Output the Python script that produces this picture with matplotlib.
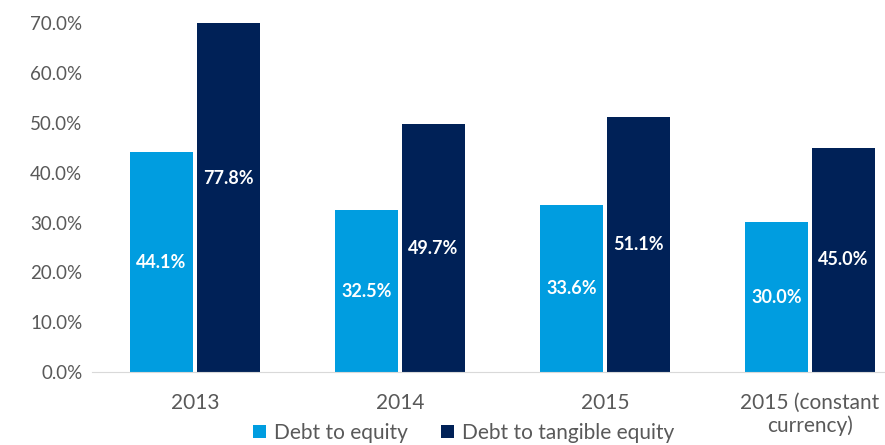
import matplotlib
matplotlib.use("Agg")
import matplotlib.pyplot as plt
import numpy as np

categories = ["2013", "2014", "2015", "2015 (constant\ncurrency)"]
debt_to_equity = [44.1, 32.5, 33.6, 30.0]
debt_to_tangible = [77.8, 49.7, 51.1, 45.0]
series_names = ["Debt to equity", "Debt to tangible equity"]
yticks = [0, 10, 20, 30, 40, 50, 60, 70]

plt.rcParams['font.family'] = ['Lato', 'DejaVu Sans']
light = "#009DE0"
dark = "#002157"
gray = "#595959"

fig = plt.figure(figsize=(8.85, 4.45), dpi=100)
ax = fig.add_axes([0.104, 0.164, 0.896, 0.784])

x = np.arange(len(categories))
w = 0.307
off = 0.163
b1 = ax.bar(x - off, debt_to_equity, w, color=light, label=series_names[0])
b2 = ax.bar(x + off, debt_to_tangible, w, color=dark, label=series_names[1])

for bars, vals in ((b1, debt_to_equity), (b2, debt_to_tangible)):
    for r, v in zip(bars, vals):
        ax.text(r.get_x() + r.get_width()/2, v/2, f"{v:.1f}%", ha="center", va="center",
                color="white", fontsize=13, fontweight="bold")

ax.set_ylim(0, 70)
ax.set_xlim(-0.502, 3.366)
ax.set_yticks(yticks)
ax.set_yticklabels([f"{t:.1f}%" for t in yticks], color=gray, fontsize=13.5)
ax.set_xticks(x)
ax.set_xticklabels(categories, color=gray, fontsize=15, linespacing=1.15)
ax.tick_params(axis="both", length=0)
ax.tick_params(axis="x", pad=15)
ax.tick_params(axis="y", pad=7)
for s in ("top", "right", "left"):
    ax.spines[s].set_visible(False)
ax.spines["bottom"].set_color("#D9D9D9")

fig.legend(handles=[b1, b2], labels=series_names, loc="center", bbox_to_anchor=(0.524, 0.027),
           ncol=2, frameon=False, fontsize=15, labelcolor=gray, handlelength=0.6,
           handleheight=0.6, handletextpad=0.4, columnspacing=1.6)

fig.savefig("out.png", dpi=100)
